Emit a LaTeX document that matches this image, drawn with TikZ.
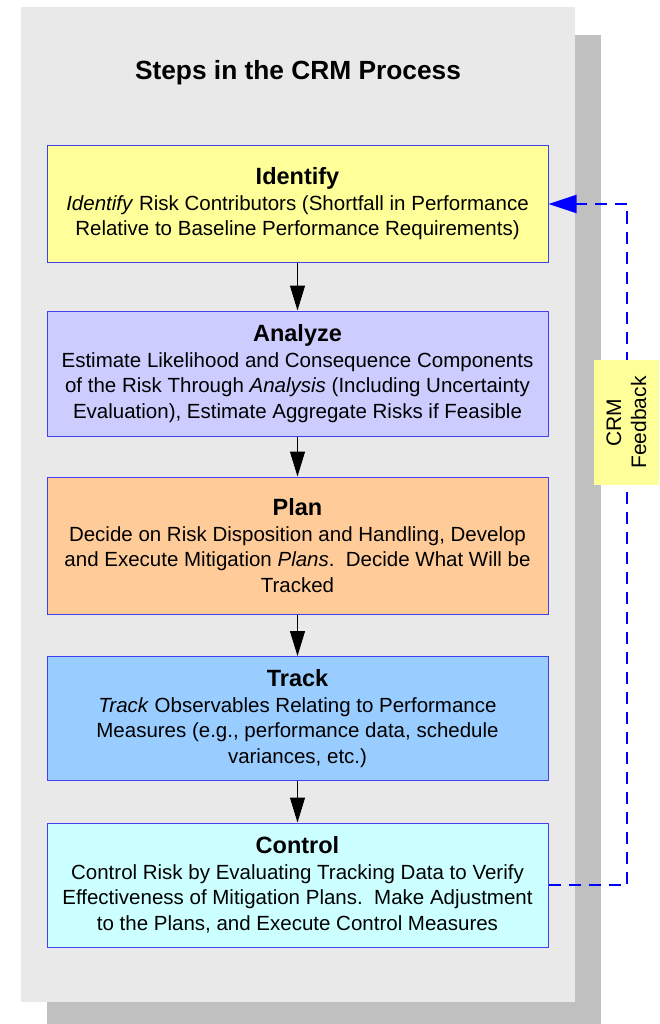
\documentclass[tikz,border=0pt]{standalone}
\usepackage{fontspec}
\setmainfont{Liberation Sans}
\usetikzlibrary{arrows.meta}

\definecolor{panelgray}{RGB}{233,233,233}
\definecolor{shadowgray}{RGB}{192,192,192}
\definecolor{boxedge}{RGB}{64,64,240}
\definecolor{fillidentify}{RGB}{255,255,153}
\definecolor{fillanalyze}{RGB}{204,204,255}
\definecolor{fillplan}{RGB}{255,204,153}
\definecolor{filltrack}{RGB}{153,204,255}
\definecolor{fillcontrol}{RGB}{204,255,255}
\definecolor{fbblue}{RGB}{0,0,255}

\newcommand{\boxtitle}[1]{{\fontsize{23.5}{25.5}\selectfont\bfseries #1}}

\tikzset{
  stepbox/.style={draw=boxedge, line width=1pt, minimum width=501pt,
    inner sep=0pt, align=center, text=black,
    font=\fontsize{20.5}{25.5}\selectfont},
  flow/.style={line width=1pt, draw=black,
    -{Triangle[length=25pt,width=15pt]}},
  feedback/.style={line width=2pt, draw=fbblue, dash pattern=on 12pt off 8pt,
    -{Triangle[length=28pt,width=18pt,fill=fbblue]}},
  notebox/.style={fill=fillidentify, rotate=90, minimum width=125pt,
    minimum height=65pt, inner sep=0pt, align=center,
    font=\fontsize{21}{25}\selectfont},
}

\begin{document}
\begin{tikzpicture}[x=1pt,y=-1pt]
\useasboundingbox (0,0) rectangle (659,1024);

% drop shadow and panel
\fill[shadowgray] (47,35) rectangle (601,1024);
\fill[panelgray] (21,7) rectangle (575,1002);

% heading
\node[anchor=base, font=\fontsize{26.3}{30}\selectfont\bfseries] (heading) at (298,80) {Steps in the CRM Process};

% process steps
\node[stepbox, fill=fillidentify, minimum height=116pt] (identify) at (297.5,204)
  {\boxtitle{Identify}\\\textit{Identify} Risk Contributors (Shortfall in Performance\\Relative to Baseline Performance Requirements)};
\node[stepbox, fill=fillanalyze, minimum height=125pt] (analyze) at (297.5,373.5)
  {\boxtitle{Analyze}\\Estimate Likelihood and Consequence Components\\of the Risk Through \textit{Analysis} (Including Uncertainty\\Evaluation), Estimate Aggregate Risks if Feasible};
\node[stepbox, fill=fillplan, minimum height=137pt] (plan) at (297.5,545.5)
  {\boxtitle{Plan}\\Decide on Risk Disposition and Handling, Develop\\and Execute Mitigation \textit{Plans}.\ \ Decide What Will be\\Tracked};
\node[stepbox, fill=filltrack, minimum height=124pt] (track) at (297.5,718.5)
  {\boxtitle{Track}\\\textit{Track} Observables Relating to Performance\\Measures (e.g., performance data, schedule\\variances, etc.)};
\node[stepbox, fill=fillcontrol, minimum height=124pt] (control) at (297.5,885)
  {\boxtitle{Control}\\Control Risk by Evaluating Tracking Data to Verify\\Effectiveness of Mitigation Plans.\ \ Make Adjustment\\to the Plans, and Execute Control Measures};

% flow between steps
\draw[flow] (identify.south) -- (analyze.north);
\draw[flow] (analyze.south) -- (plan.north);
\draw[flow] (plan.south) -- (track.north);
\draw[flow] (track.south) -- (control.north);

% feedback loop
\coordinate (fbx) at (627,0);
\draw[feedback] (control.east) -- (control.east -| fbx) |- (identify.east);
\node[notebox] (fblabel) at (626.5,422.5) {CRM\\Feedback};
\end{tikzpicture}
\end{document}
